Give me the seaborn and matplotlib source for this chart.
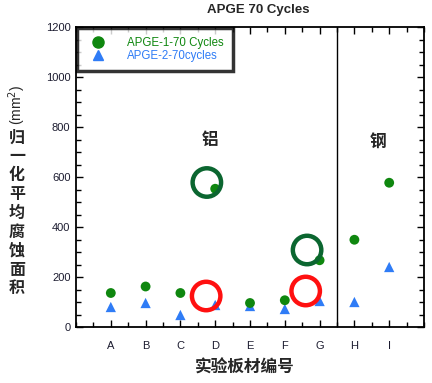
import matplotlib
matplotlib.use("Agg")
import matplotlib.pyplot as plt
import seaborn as sns
import pandas as pd
from matplotlib.lines import Line2D
from matplotlib.ticker import MultipleLocator

sns.set_style("ticks")
plt.rcParams['font.family'] = ['Liberation Sans', 'Noto Sans CJK SC', 'DejaVu Sans']

categories = ["A", "B", "C", "D", "E", "F", "G", "H", "I"]
apge1 = [136, 162, 136, 553, 96, 107, 267, 349, 577]
apge2 = [80, 96, 48, 88, 84, 72, 104, 100, 240]
series_names = ["APGE-1-70 Cycles", "APGE-2-70cycles"]

# annotation rings (category position, value)
green_ring_x = [3.76, 6.64]
green_ring_y = [578, 308]
red_ring_x = [3.74, 6.6]
red_ring_y = [124, 144]

pos = list(range(1, len(categories) + 1))
df1 = pd.DataFrame({"x": pos, "y": apge1})
df2 = pd.DataFrame({"x": pos, "y": apge2})

fig = plt.figure(figsize=(4.32, 3.83), dpi=100)
ax = fig.add_axes([76/432, 1-327/383, 348/432, 300/383])

green = "#0f870f"
blue = "#2f7cf6"
dgreen = "#0b6630"
red = "#ff1010"

sns.scatterplot(data=df2, x="x", y="y", marker="^", s=55, color=blue, edgecolor="none", ax=ax, zorder=3)
sns.scatterplot(data=df1, x="x", y="y", marker="o", s=50, color=green, edgecolor="none", ax=ax, zorder=4)
ax.scatter(green_ring_x, green_ring_y, s=420, facecolors="none", edgecolors=dgreen, linewidths=3.2, zorder=5)
ax.scatter(red_ring_x, red_ring_y, s=420, facecolors="none", edgecolors=red, linewidths=3.2, zorder=5)

ax.axvline(7.5, color="black", lw=1.0)
ax.set_xlim(0, 10)
ax.set_ylim(0, 1200)
ax.set_xticks(pos)
ax.set_xticklabels(categories)
ax.xaxis.set_minor_locator(MultipleLocator(0.5))
ax.yaxis.set_major_locator(MultipleLocator(200))
ax.yaxis.set_minor_locator(MultipleLocator(50))
ax.tick_params(which="both", direction="in", top=True, right=True, width=1.0, labelsize=8, colors="black", labelcolor="#1c1c30")
ax.tick_params(which="major", length=5, pad=10)
ax.tick_params(axis="y", which="major", pad=4)
ax.tick_params(which="minor", length=3.5)
for sp in ax.spines.values():
    sp.set_linewidth(1.3)
    sp.set_color("black")
ax.set_xlabel("")
ax.set_ylabel("")

ax.text(3.85, 750, "铝", fontsize=12, fontweight="bold", ha="center", va="center", family=['Noto Sans CJK SC'])
ax.text(8.68, 740, "钢", fontsize=12, fontweight="bold", ha="center", va="center", family=['Noto Sans CJK SC'])

fig.text(258/432, 1-10/383, "APGE 70 Cycles", fontsize=9.5, fontweight="bold", ha="center", va="center")
fig.text(245/432, 1-368/383, "实验板材编号", fontsize=12, fontweight="bold", ha="center", va="center", family=['Noto Sans CJK SC'])
fig.text(17/432, 1-105/383, "(mm$^2$)", fontsize=10, rotation=90, ha="center", va="center")
fig.text(17/432, 1-213/383, "\n".join("归一化平均腐蚀面积"), fontsize=11.5, fontweight="bold",
         ha="center", va="center", linespacing=1.22, family=['Noto Sans CJK SC'])

handles = [
    Line2D([], [], marker="o", ls="none", color=green, markersize=8),
    Line2D([], [], marker="^", ls="none", color=blue, markersize=7.5),
]
leg = ax.legend(handles, series_names, loc="upper left", bbox_to_anchor=(0.0, 1.0), fontsize=8.3,
                frameon=True, fancybox=False, borderaxespad=0.1, handletextpad=1.4, labelspacing=0.1,
                borderpad=0.75, handlelength=2.2)
leg.get_frame().set_edgecolor("black")
leg.get_frame().set_linewidth(2.5)
for t, c in zip(leg.get_texts(), [green, blue]):
    t.set_color(c)

fig.savefig("out.png", dpi=100)
